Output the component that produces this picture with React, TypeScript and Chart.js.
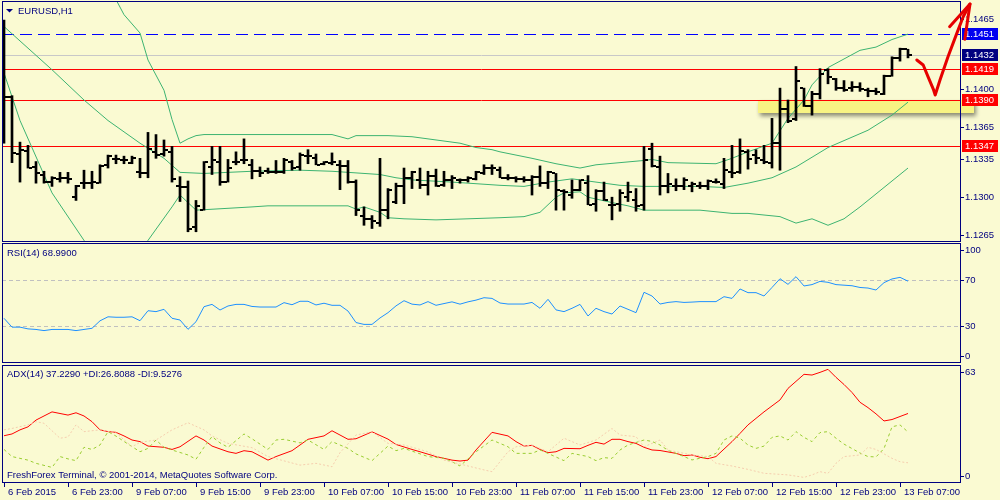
import React, { useEffect, useRef } from 'react';
import { Chart, registerables } from 'chart.js';

Chart.register(...registerables);

const FONT_FAMILY = '"Liberation Sans", Arial, sans-serif';
const FONT_SIZE = 9.5;
const FONT = `${FONT_SIZE}px ${FONT_FAMILY}`;
const NAVY = '#000080';
const BG = '#FAFAD2';
const BAND = '#3CB371';

// ---------- texts ----------
const symbolTitle = 'EURUSD,H1';
const rsiTitle = 'RSI(14) 68.9900';
const adxTitle = 'ADX(14) 37.2290 +DI:26.8088 -DI:9.5276';
const copyright = 'FreshForex Terminal, \u00A9 2001-2014, MetaQuotes Software Corp.';

// ---------- time axis (bar index -> label) ----------
const timeTickBars = [0, 8, 16, 24, 32, 40, 48, 56, 64, 72, 80, 88, 96, 104, 112];
const timeTickLabels = [
  '6 Feb 2015', '6 Feb 23:00', '9 Feb 07:00', '9 Feb 15:00', '9 Feb 23:00',
  '10 Feb 07:00', '10 Feb 15:00', '10 Feb 23:00', '11 Feb 07:00', '11 Feb 15:00',
  '11 Feb 23:00', '12 Feb 07:00', '12 Feb 15:00', '12 Feb 23:00', '13 Feb 07:00',
];

// ---------- EURUSD H1 OHLC ----------
const opens = [
  1.1446, 1.1393, 1.1340, 1.1343, 1.1328, 1.1321, 1.1314, 1.1317, 1.1318, 1.1300,
  1.1313, 1.1313, 1.1313, 1.1330, 1.1335, 1.1334, 1.1332, 1.1323, 1.1322, 1.1342,
  1.1340, 1.1342, 1.1310, 1.1309, 1.1272, 1.1288, 1.1328, 1.1333, 1.1314, 1.1333,
  1.1334, 1.1330, 1.1324, 1.1324, 1.1323, 1.1323, 1.1333, 1.1328, 1.1338, 1.1336,
  1.1331, 1.1332, 1.1330, 1.1329, 1.1314, 1.1283, 1.1280, 1.1276, 1.1288, 1.1296,
  1.1310, 1.1318, 1.1316, 1.1311, 1.1320, 1.1311, 1.1316, 1.1316, 1.1316, 1.1317,
  1.1322, 1.1327, 1.1325, 1.1318, 1.1318, 1.1317, 1.1316, 1.1319, 1.1313, 1.1322,
  1.1306, 1.1302, 1.1307, 1.1313, 1.1294, 1.1306, 1.1293, 1.1294, 1.1300, 1.1297,
  1.1293, 1.1345, 1.1328, 1.1310, 1.1310, 1.1310, 1.1310, 1.1310, 1.1310, 1.1314,
  1.1312, 1.1323, 1.1323, 1.1342, 1.1339, 1.1334, 1.1332, 1.1350, 1.1382, 1.1372,
  1.1401, 1.1384, 1.1396, 1.1418, 1.1409, 1.1401, 1.1401, 1.1402, 1.1399, 1.1398,
  1.1396, 1.1412, 1.1429, 1.1437,
];
const highs = [
  1.1464, 1.1394, 1.1351, 1.1348, 1.1333, 1.1324, 1.1319, 1.1323, 1.1323, 1.1311,
  1.1325, 1.1324, 1.1330, 1.1339, 1.1339, 1.1338, 1.1338, 1.1336, 1.1360, 1.1358,
  1.1353, 1.1347, 1.1319, 1.1315, 1.1297, 1.1333, 1.1347, 1.1347, 1.1335, 1.1342,
  1.1354, 1.1335, 1.1328, 1.1327, 1.1334, 1.1336, 1.1334, 1.1341, 1.1344, 1.1340,
  1.1333, 1.1341, 1.1334, 1.1334, 1.1316, 1.1291, 1.1283, 1.1336, 1.1308, 1.1313,
  1.1327, 1.1324, 1.1327, 1.1324, 1.1326, 1.1324, 1.1320, 1.1317, 1.1319, 1.1324,
  1.1330, 1.1330, 1.1328, 1.1321, 1.1319, 1.1319, 1.1320, 1.1329, 1.1324, 1.1322,
  1.1307, 1.1316, 1.1316, 1.1320, 1.1307, 1.1314, 1.1300, 1.1307, 1.1314, 1.1308,
  1.1347, 1.1350, 1.1338, 1.1322, 1.1317, 1.1318, 1.1314, 1.1314, 1.1316, 1.1317,
  1.1336, 1.1348, 1.1354, 1.1344, 1.1344, 1.1348, 1.1373, 1.1401, 1.1390, 1.1421,
  1.1401, 1.1398, 1.1419, 1.1419, 1.1410, 1.1408, 1.1407, 1.1406, 1.1401, 1.1401,
  1.1413, 1.1430, 1.1438, 1.1437,
];
const lows = [
  1.1350, 1.1332, 1.1314, 1.1327, 1.1313, 1.1313, 1.1310, 1.1314, 1.1313, 1.1297,
  1.1308, 1.1308, 1.1313, 1.1327, 1.1331, 1.1331, 1.1331, 1.1318, 1.1318, 1.1336,
  1.1338, 1.1314, 1.1296, 1.1268, 1.1268, 1.1288, 1.1321, 1.1311, 1.1314, 1.1330,
  1.1331, 1.1317, 1.1319, 1.1322, 1.1322, 1.1322, 1.1325, 1.1325, 1.1331, 1.1330,
  1.1330, 1.1330, 1.1307, 1.1313, 1.1283, 1.1274, 1.1271, 1.1273, 1.1280, 1.1294,
  1.1294, 1.1308, 1.1308, 1.1302, 1.1310, 1.1310, 1.1308, 1.1313, 1.1314, 1.1316,
  1.1321, 1.1321, 1.1318, 1.1316, 1.1314, 1.1314, 1.1302, 1.1310, 1.1308, 1.1288,
  1.1288, 1.1299, 1.1306, 1.1293, 1.1287, 1.1297, 1.1279, 1.1287, 1.1296, 1.1287,
  1.1288, 1.1328, 1.1302, 1.1304, 1.1306, 1.1307, 1.1305, 1.1308, 1.1307, 1.1313,
  1.1308, 1.1318, 1.1322, 1.1326, 1.1331, 1.1331, 1.1327, 1.1325, 1.1369, 1.1371,
  1.1384, 1.1376, 1.1391, 1.1405, 1.1399, 1.1398, 1.1398, 1.1398, 1.1393, 1.1395,
  1.1395, 1.1412, 1.1426, 1.1429,
];
const closes = [
  1.1393, 1.1341, 1.1344, 1.1327, 1.1322, 1.1314, 1.1318, 1.1318, 1.1317, 1.1310,
  1.1313, 1.1314, 1.1329, 1.1338, 1.1335, 1.1334, 1.1336, 1.1322, 1.1345, 1.1339,
  1.1344, 1.1317, 1.1309, 1.1271, 1.1292, 1.1333, 1.1334, 1.1314, 1.1327, 1.1333,
  1.1334, 1.1324, 1.1322, 1.1323, 1.1323, 1.1334, 1.1327, 1.1339, 1.1338, 1.1330,
  1.1333, 1.1333, 1.1329, 1.1314, 1.1288, 1.1280, 1.1278, 1.1288, 1.1307, 1.1310,
  1.1318, 1.1323, 1.1311, 1.1320, 1.1310, 1.1316, 1.1318, 1.1316, 1.1318, 1.1323,
  1.1327, 1.1327, 1.1318, 1.1318, 1.1317, 1.1316, 1.1319, 1.1313, 1.1323, 1.1307,
  1.1305, 1.1307, 1.1316, 1.1293, 1.1306, 1.1297, 1.1293, 1.1304, 1.1305, 1.1292,
  1.1334, 1.1329, 1.1310, 1.1312, 1.1310, 1.1316, 1.1312, 1.1310, 1.1315, 1.1314,
  1.1325, 1.1322, 1.1343, 1.1335, 1.1336, 1.1333, 1.1350, 1.1382, 1.1371, 1.1408,
  1.1384, 1.1396, 1.1414, 1.1411, 1.1401, 1.1399, 1.1402, 1.1400, 1.1398, 1.1397,
  1.1412, 1.1429, 1.1437, 1.1432,
];

// ---------- Bollinger bands [bar, price] ----------
const bbUpper = [
  [0, 1.1620], [6, 1.1570], [10, 1.1530], [14, 1.1483], [15, 1.1469], [17, 1.1452], [18, 1.1427],
  [20, 1.1399], [21, 1.1372], [22, 1.1350], [23, 1.1354], [24, 1.1357], [25, 1.1358], [31, 1.1358],
  [41, 1.1358], [43, 1.1354], [44, 1.1357], [48, 1.1357], [51, 1.1356], [54, 1.1353], [57, 1.1350],
  [59, 1.1346], [61, 1.1344], [62, 1.1342], [66, 1.1336], [69, 1.1331], [72, 1.1327], [74, 1.1330],
  [77, 1.1332], [80, 1.1334], [81, 1.1335], [83, 1.1332], [89, 1.1331], [91, 1.1336], [93, 1.1342],
  [96, 1.1350], [98, 1.1373], [100, 1.1390], [101, 1.1404], [103, 1.1420], [107, 1.1436],
  [109, 1.1439], [111, 1.1446], [113, 1.1451],
];
const bbMiddle = [
  [0, 1.1458], [6, 1.1418], [10, 1.1390], [13, 1.1371], [17, 1.1350], [20, 1.1336], [22, 1.1323],
  [25, 1.1322], [31, 1.1324], [37, 1.1325], [41, 1.1324], [47, 1.1321], [49, 1.1318], [51, 1.1316],
  [56, 1.1314], [60, 1.1312], [62, 1.1311], [65, 1.1310], [68, 1.1314], [71, 1.1317], [74, 1.1314],
  [77, 1.1311], [80, 1.1310], [87, 1.1310], [90, 1.1309], [93, 1.1313], [96, 1.1318], [99, 1.1328],
  [103, 1.1346], [108, 1.1362], [111, 1.1376], [113, 1.1388],
];
const bbLower = [
  [0, 1.1415], [2, 1.1371], [6, 1.1304], [10, 1.1260], [12, 1.1243], [14, 1.1236], [16, 1.1243],
  [18, 1.1260], [21, 1.1291], [22, 1.1302], [23, 1.1295], [24, 1.1288], [31, 1.1291], [33, 1.1292],
  [43, 1.1292], [44, 1.1289], [45, 1.1291], [47, 1.1286], [48, 1.1281], [50, 1.1280], [54, 1.1279],
  [62, 1.1281], [65, 1.1282], [67, 1.1286], [69, 1.1300], [70, 1.1304], [72, 1.1305], [73, 1.1300],
  [76, 1.1295], [78, 1.1292], [80, 1.1288], [87, 1.1288], [91, 1.1285], [93, 1.1285], [97, 1.1282],
  [99, 1.1276], [101, 1.1280], [103, 1.1274], [105, 1.1280], [107, 1.1291], [110, 1.1309], [113, 1.1327],
];

// ---------- horizontal levels & annotations ----------
const resistanceDash = 1.1451;
const bidLevel = 1.1432;
const redLevels = [1.1419, 1.1390, 1.1347];
const priceTicks = [1.1465, 1.1400, 1.1365, 1.1335, 1.1300, 1.1265];
const zoneBars = [94.3, 121.25];
const zonePrices = [1.1390, 1.1378];
const arrowPath = [
  [114.1, 1.14270], [114.9, 1.14224], [115.5, 1.14116], [116.2, 1.13993], [116.4, 1.13946],
  [117.0, 1.14085], [118.0, 1.14301], [119.1, 1.14517], [119.9, 1.14671], [120.75, 1.14789],
];
const arrowHead = [[118.2, 1.14579], [120.75, 1.14789], [120.1, 1.14462]];

// ---------- RSI(14) ----------
const rsi = [
  36.7, 29, 29, 27.5, 27, 26, 27, 27, 27, 26,
  27, 28, 34.5, 38, 37.6, 37.6, 38, 34.6, 43.3, 42.5,
  44.5, 36.7, 35.2, 27.1, 33.7, 46.8, 48.8, 43.9, 47.4, 48.8,
  48.8, 47, 46.5, 46.5, 46.5, 50.3, 48.5, 51.5, 51.5, 48.3,
  49.8, 48, 48, 43, 33, 31.4, 31.4, 37, 41.6, 47.5,
  52, 49, 48.3, 51.2, 48, 49.5, 51, 49, 51, 52.5,
  54.6, 54, 50, 49.1, 49.1, 49.1, 50.5, 45.4, 53.2, 44,
  42.5, 45.4, 48.8, 38.7, 45.4, 42.5, 40.4, 47.4, 44.5, 41.6,
  59.3, 56.1, 49.1, 50.5, 51.2, 50.5, 50.8, 51.2, 51.2, 51.2,
  55.5, 54, 62.2, 59, 59, 56.1, 63.5, 71.1, 66.2, 72.9,
  64.8, 66, 68.8, 68, 66, 65.5, 65, 63.5, 63, 61.3,
  67.7, 70.9, 72.3, 68.99,
];
const rsiLevels = [70, 30];
const rsiTicks = [100, 70, 30, 0];

// ---------- ADX(14) [bar, value] ----------
const adx = [
  [0, 24.7], [1, 25.7], [2, 28.0], [3, 29.7], [4, 33.5], [5, 35.8], [6, 38.1], [7, 37.2], [8, 36.3],
  [9, 37.6], [10, 35.8], [11, 32.6], [12, 28.0], [13, 27.0], [14, 26.6], [15, 24.6], [16, 22.3],
  [17, 21.4], [18, 18.9], [20, 18.2], [21, 17.0], [22, 18.5], [24, 24.6], [25, 22.3], [26, 18.9],
  [28, 15.7], [29, 14.8], [30, 16.3], [31, 15.7], [33, 11.0], [34, 13.0], [36, 16.3], [38, 22.7],
  [40, 24.6], [41, 27.5], [43, 22.7], [44, 23.0], [46, 26.9], [48, 22.8], [49, 19.8], [51, 17.0],
  [52, 15.7], [54, 13.0], [56, 11.0], [57, 10.5], [58, 11.0], [59, 16.7], [61, 26.6], [63, 24.6],
  [64, 21.4], [65, 18.9], [66, 19.3], [67, 17.0], [68, 15.2], [69, 15.7], [70, 17.6], [72, 17.4],
  [73, 19.3], [74, 21.0], [75, 20.0], [76, 22.7], [77, 22.7], [78, 21.4], [79, 20.4], [80, 18.2],
  [81, 16.7], [82, 16.4], [84, 14.8], [85, 13.5], [86, 13.9], [87, 12.6], [88, 11.8], [89, 13.0],
  [91, 21.4], [92, 26.0], [93, 30.8], [95, 38.1], [97, 44.8], [98, 51.3], [100, 59.2], [101, 58.8],
  [102, 60.3], [103, 62.0], [104, 57.5], [105, 53.5], [106, 49.0], [107, 43.5], [108, 40.5],
  [109, 37.0], [110, 33.0], [111, 33.8], [112, 35.5], [113, 37.2],
];
const plusDI = [
  [0, 17.0], [1, 13.0], [3, 11.0], [4, 9.2], [6, 6.9], [7, 13.0], [8, 11.7], [9, 10.7], [10, 18.2],
  [11, 17.0], [12, 19.5], [13, 27.0], [14, 24.5], [15, 21.5], [17, 15.7], [18, 17.6], [19, 22.3],
  [20, 18.2], [21, 16.7], [23, 13.9], [24, 11.5], [25, 18.2], [26, 24.2], [27, 20.7], [28, 18.2],
  [30, 25.7], [31, 23.0], [33, 17.0], [34, 22.3], [35, 22.7], [37, 20.7], [38, 22.3], [40, 17.0],
  [41, 21.4], [43, 17.6], [44, 14.5], [46, 10.7], [48, 18.9], [49, 16.3], [50, 17.6], [53, 13.0],
  [55, 12.0], [56, 10.1], [57, 7.7], [59, 15.7], [61, 22.3], [63, 18.5], [64, 14.8], [66, 14.8],
  [67, 16.7], [68, 14.8], [70, 10.7], [71, 14.8], [73, 13.0], [74, 10.7], [75, 12.4], [76, 12.0],
  [77, 16.7], [78, 19.5], [80, 22.3], [81, 21.5], [82, 19.5], [83, 16.5], [85, 13.0], [86, 11.1],
  [88, 13.0], [89, 14.8], [90, 22.3], [91, 24.6], [92, 23.3], [93, 19.5], [94, 17.6], [95, 18.9],
  [96, 23.8], [97, 24.6], [98, 22.3], [99, 27.0], [100, 23.8], [101, 21.4], [102, 26.5], [103, 27.0],
  [104, 23.3], [105, 20.0], [106, 17.5], [107, 15.0], [108, 13.0], [109, 12.8], [110, 17.5],
  [111, 29.7], [112, 30.8], [113, 26.8],
];
const minusDI = [
  [0, 28.0], [1, 28.8], [3, 30.8], [4, 32.6], [5, 31.7], [7, 23.3], [8, 24.0], [9, 30.8], [10, 27.0],
  [12, 28.0], [14, 26.4], [16, 18.5], [17, 21.0], [19, 22.3], [21, 28.0], [23, 32.0], [25, 28.0],
  [26, 24.6], [28, 20.4], [31, 18.0], [33, 13.0], [37, 8.2], [39, 9.2], [41, 7.3], [42, 15.2],
  [44, 25.1], [46, 26.9], [48, 20.4], [50, 19.5], [53, 15.7], [55, 11.0], [58, 7.7], [60, 5.5],
  [61, 4.5], [63, 15.7], [64, 18.5], [66, 19.5], [68, 15.7], [70, 23.3], [72, 19.5], [74, 22.3],
  [76, 28.8], [77, 25.1], [79, 24.2], [80, 18.5], [82, 22.3], [83, 16.7], [86, 13.9], [88, 13.0],
  [89, 9.2], [91, 7.7], [93, 5.8], [95, 3.6], [98, 2.7], [100, 1.3], [101, 2.7], [102, 4.5],
  [103, 3.6], [104, 9.2], [105, 13.0], [106, 13.4], [107, 13.9], [108, 18.2], [109, 17.0],
  [110, 14.5], [111, 12.0], [112, 10.1], [113, 9.5],
];
const adxTicks = [63, 0];

// ---------- layout (pixels / scale windows) ----------
const X_MIN = -0.25;
const X_MAX = 119.625;
const PRICE_MIN = 1.1258519;
const PRICE_MAX = 1.1481667;
const RSI_MIN = -2.17;
const RSI_MAX = 102.17;
const ADX_MIN = -1.85;
const ADX_MAX = 64.44;

const pts = (arr) => arr.map(([x, y]) => ({ x, y }));

function txt(ctx, s, x, y, color = NAVY, align = 'left') {
  ctx.fillStyle = color;
  ctx.font = FONT;
  ctx.textAlign = align;
  ctx.textBaseline = 'middle';
  ctx.fillText(s, x, y);
}

function drawBorder(ctx, a) {
  ctx.save();
  ctx.strokeStyle = NAVY;
  ctx.lineWidth = 1;
  ctx.setLineDash([]);
  ctx.strokeRect(a.left + 0.5, a.top + 0.5, a.right - a.left - 1, a.bottom - a.top - 1);
  ctx.restore();
}

function axisLabel(ctx, a, y, s) {
  const yy = Math.round(y);
  ctx.save();
  ctx.strokeStyle = NAVY;
  ctx.lineWidth = 1;
  ctx.beginPath();
  ctx.moveTo(a.right, yy + 0.5);
  ctx.lineTo(a.right + 3, yy + 0.5);
  ctx.stroke();
  txt(ctx, s, a.right + 4, yy + 0.5);
  ctx.restore();
}

function boxLabel(ctx, a, y, s, bg) {
  const yy = Math.round(y);
  ctx.save();
  ctx.fillStyle = bg;
  ctx.fillRect(a.right + 1, yy - 6, 36, 12);
  txt(ctx, s, a.right + 4, yy + 0.5, '#FFFFFF');
  ctx.restore();
}

function clampedLabels(ctx, a, ys, values) {
  for (const v of values) {
    let y = ys.getPixelForValue(v);
    y = Math.max(a.top + 7, Math.min(a.bottom - 7, y));
    axisLabel(ctx, a, y, String(v));
  }
}

function hLine(ctx, a, y, color, dash) {
  const yy = Math.round(y) + 0.5;
  ctx.save();
  ctx.strokeStyle = color;
  ctx.lineWidth = 1;
  ctx.setLineDash(dash || []);
  ctx.beginPath();
  ctx.moveTo(a.left, yy);
  ctx.lineTo(a.right, yy);
  ctx.stroke();
  ctx.restore();
}

const mainDecor = {
  id: 'mainDecor',
  beforeDatasetsDraw(chart) {
    const { ctx, chartArea: a, scales } = chart;
    const xs = scales.x;
    const ys = scales.y;
    const x1 = xs.getPixelForValue(zoneBars[0]);
    const x2 = xs.getPixelForValue(zoneBars[1]);
    const y1 = ys.getPixelForValue(zonePrices[0]);
    const y2 = ys.getPixelForValue(zonePrices[1]);
    ctx.save();
    ctx.shadowColor = 'rgba(0,0,0,0.45)';
    ctx.shadowBlur = 4;
    ctx.shadowOffsetX = 2;
    ctx.shadowOffsetY = 3;
    ctx.fillStyle = '#F8F383';
    ctx.fillRect(Math.round(x1), Math.round(y1), Math.round(x2 - x1), Math.round(y2 - y1));
    ctx.restore();
    hLine(ctx, a, ys.getPixelForValue(bidLevel), '#C8C8C8');
    for (const p of redLevels) hLine(ctx, a, ys.getPixelForValue(p), '#FF0000');
    hLine(ctx, a, ys.getPixelForValue(resistanceDash), '#0000FF', [12, 6]);
  },
  afterDatasetsDraw(chart) {
    const { ctx, chartArea: a, scales } = chart;
    const xs = scales.x;
    const ys = scales.y;
    ctx.save();
    ctx.beginPath();
    ctx.rect(a.left, a.top, a.right - a.left, a.bottom - a.top);
    ctx.clip();
    ctx.fillStyle = '#000000';
    for (let i = 0; i < opens.length; i++) {
      const x = Math.round(xs.getPixelForValue(i));
      const yo = Math.round(ys.getPixelForValue(opens[i]));
      const yc = Math.round(ys.getPixelForValue(closes[i]));
      ctx.fillRect(x - 4, yo - 1, 3, 2);
      ctx.fillRect(x + 1, yc - 1, 3, 2);
    }
    ctx.restore();
  },
  afterDraw(chart) {
    const { ctx, chartArea: a, scales } = chart;
    const xs = scales.x;
    const ys = scales.y;
    drawBorder(ctx, a);
    for (const p of priceTicks) axisLabel(ctx, a, ys.getPixelForValue(p), p.toFixed(4));
    boxLabel(ctx, a, ys.getPixelForValue(resistanceDash), resistanceDash.toFixed(4), '#0000F0');
    boxLabel(ctx, a, ys.getPixelForValue(bidLevel), bidLevel.toFixed(4), '#000080');
    for (const p of redLevels) boxLabel(ctx, a, ys.getPixelForValue(p), p.toFixed(4), '#FF0000');
    ctx.save();
    ctx.strokeStyle = '#E60000';
    ctx.lineWidth = 3;
    ctx.lineJoin = 'round';
    ctx.lineCap = 'round';
    ctx.beginPath();
    arrowPath.forEach(([b, p], i) => {
      const px = xs.getPixelForValue(b);
      const py = ys.getPixelForValue(p);
      if (i === 0) ctx.moveTo(px, py); else ctx.lineTo(px, py);
    });
    ctx.stroke();
    ctx.beginPath();
    arrowHead.forEach(([b, p], i) => {
      const px = xs.getPixelForValue(b);
      const py = ys.getPixelForValue(p);
      if (i === 0) ctx.moveTo(px, py); else ctx.lineTo(px, py);
    });
    ctx.stroke();
    ctx.restore();
    ctx.save();
    ctx.fillStyle = NAVY;
    ctx.beginPath();
    ctx.moveTo(6, 9);
    ctx.lineTo(13, 9);
    ctx.lineTo(9.5, 12.5);
    ctx.closePath();
    ctx.fill();
    txt(ctx, symbolTitle, 18, 11);
    ctx.restore();
  },
};

const rsiDecor = {
  id: 'rsiDecor',
  beforeDatasetsDraw(chart) {
    const { ctx, chartArea: a, scales } = chart;
    for (const v of rsiLevels) hLine(ctx, a, scales.y.getPixelForValue(v), '#C0C0C0', [4, 3]);
  },
  afterDraw(chart) {
    const { ctx, chartArea: a, scales } = chart;
    drawBorder(ctx, a);
    clampedLabels(ctx, a, scales.y, rsiTicks);
    txt(ctx, rsiTitle, 7, 11);
  },
};

const adxDecor = {
  id: 'adxDecor',
  afterDraw(chart) {
    const { ctx, chartArea: a, scales } = chart;
    drawBorder(ctx, a);
    clampedLabels(ctx, a, scales.y, adxTicks);
    txt(ctx, adxTitle, 7, 11);
    txt(ctx, copyright, 7, 112);
  },
};

const hiddenX = { type: 'linear', display: false, min: X_MIN, max: X_MAX, offset: false };
const basePlugins = { legend: { display: false }, tooltip: { enabled: false } };

function mainConfig() {
  return {
    type: 'bar',
    data: {
      datasets: [
        {
          type: 'bar',
          data: highs.map((h, i) => ({ x: i, y: [lows[i], h] })),
          backgroundColor: '#000000',
          borderWidth: 0,
          barThickness: 2,
          order: 0,
        },
        { type: 'line', data: pts(bbUpper), borderColor: BAND, borderWidth: 1, pointRadius: 0, order: 1 },
        { type: 'line', data: pts(bbMiddle), borderColor: BAND, borderWidth: 1, pointRadius: 0, order: 1 },
        { type: 'line', data: pts(bbLower), borderColor: BAND, borderWidth: 1, pointRadius: 0, order: 1 },
      ],
    },
    options: {
      animation: false,
      responsive: false,
      devicePixelRatio: 1,
      layout: { padding: { left: 2, right: 39, top: 1, bottom: 0 } },
      scales: {
        x: hiddenX,
        y: { display: false, min: PRICE_MIN, max: PRICE_MAX },
      },
      plugins: basePlugins,
    },
    plugins: [mainDecor],
  };
}

function rsiConfig() {
  return {
    type: 'line',
    data: {
      datasets: [
        {
          data: rsi.map((v, i) => ({ x: i, y: v })),
          borderColor: '#1E90FF',
          borderWidth: 1,
          pointRadius: 0,
        },
      ],
    },
    options: {
      animation: false,
      responsive: false,
      devicePixelRatio: 1,
      layout: { padding: { left: 2, right: 39, top: 1, bottom: 0 } },
      scales: {
        x: hiddenX,
        y: { display: false, min: RSI_MIN, max: RSI_MAX },
      },
      plugins: basePlugins,
    },
    plugins: [rsiDecor],
  };
}

function adxConfig() {
  return {
    type: 'line',
    data: {
      datasets: [
        { data: pts(minusDI), borderColor: '#F5CDAE', borderWidth: 1, borderDash: [2, 2], pointRadius: 0 },
        { data: pts(plusDI), borderColor: '#9ACD32', borderWidth: 1, borderDash: [3, 3], pointRadius: 0 },
        { data: pts(adx), borderColor: '#FF0000', borderWidth: 1, pointRadius: 0 },
      ],
    },
    options: {
      animation: false,
      responsive: false,
      devicePixelRatio: 1,
      layout: { padding: { left: 2, right: 39, top: 2, bottom: 0 } },
      scales: {
        x: {
          type: 'linear',
          min: X_MIN,
          max: X_MAX,
          offset: false,
          afterBuildTicks: (axis) => {
            axis.ticks = timeTickBars.map((v) => ({ value: v }));
          },
          afterFit: (axis) => {
            axis.height = 17;
          },
          ticks: {
            autoSkip: false,
            maxRotation: 0,
            minRotation: 0,
            align: 'start',
            labelOffset: 4,
            padding: 0,
            color: NAVY,
            font: { family: FONT_FAMILY, size: FONT_SIZE },
            callback: (_v, i) => timeTickLabels[i],
          },
          grid: { display: true, drawOnChartArea: false, drawTicks: true, tickLength: 4, color: NAVY },
          border: { display: false },
        },
        y: { display: false, min: ADX_MIN, max: ADX_MAX },
      },
      plugins: basePlugins,
    },
    plugins: [adxDecor],
  };
}

export default function App() {
  const mainRef = useRef(null);
  const rsiRef = useRef(null);
  const adxRef = useRef(null);

  useEffect(() => {
    const charts = [
      new Chart(mainRef.current, mainConfig()),
      new Chart(rsiRef.current, rsiConfig()),
      new Chart(adxRef.current, adxConfig()),
    ];
    return () => charts.forEach((c) => c.destroy());
  }, []);

  return (
    <div style={{ position: 'fixed', left: 0, top: 0, width: 1000, height: 500, background: BG, overflow: 'hidden' }}>
      <canvas ref={mainRef} width={1000} height={242} style={{ position: 'absolute', left: 0, top: 0, width: 1000, height: 242 }} />
      <canvas ref={rsiRef} width={1000} height={121} style={{ position: 'absolute', left: 0, top: 242, width: 1000, height: 121 }} />
      <canvas ref={adxRef} width={1000} height={137} style={{ position: 'absolute', left: 0, top: 363, width: 1000, height: 137 }} />
    </div>
  );
}
